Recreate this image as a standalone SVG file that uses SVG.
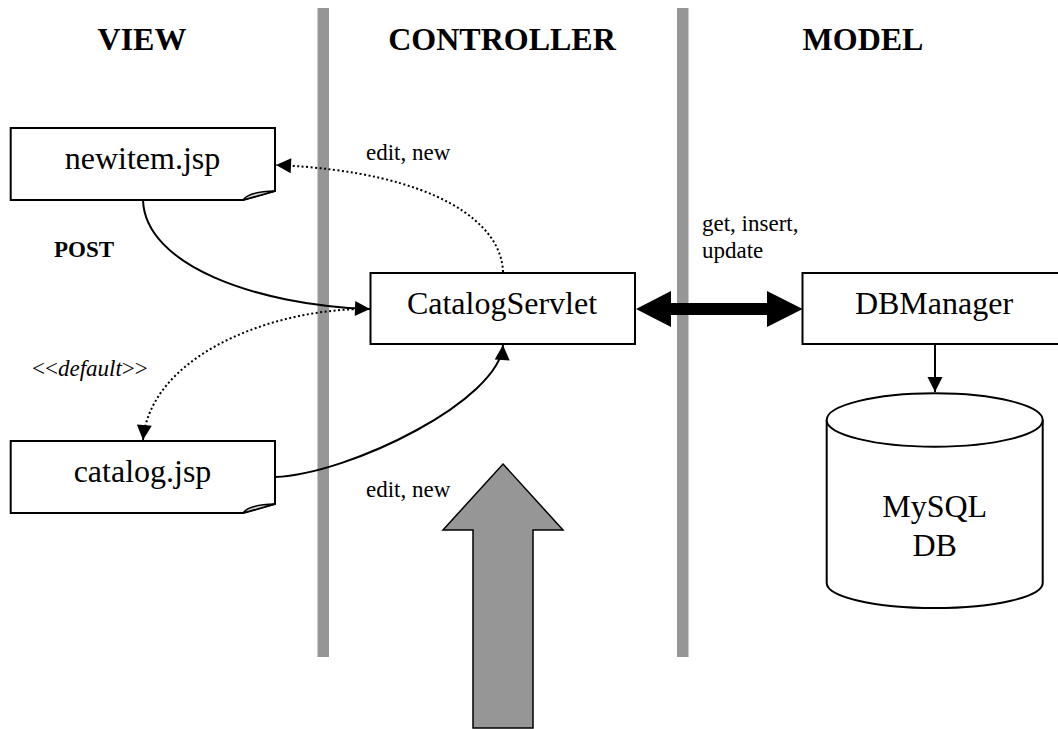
<svg xmlns="http://www.w3.org/2000/svg" width="1058" height="729" viewBox="0 0 1058 729">
  <style>
    .lane { fill: #969696; }
    .head { font-family: "Liberation Serif", "Times New Roman", serif; font-size: 32px; font-weight: bold; text-anchor: middle; fill: #000; }
    .label { font-family: "Liberation Serif", "Times New Roman", serif; font-size: 32px; text-anchor: middle; fill: #000; }
    .small { font-family: "Liberation Serif", "Times New Roman", serif; font-size: 23px; fill: #000; }
    .box { fill: #fff; stroke: #000; stroke-width: 2; }
    .curl { fill: #d4d4d4; stroke: #000; stroke-width: 1.5; stroke-linejoin: round; }
    .solid { fill: none; stroke: #000; stroke-width: 2; }
    .dotted { fill: none; stroke: #000; stroke-width: 2; stroke-dasharray: 2 2.5; }
  </style>
  <defs>
    <marker id="tri" markerUnits="userSpaceOnUse" markerWidth="16" markerHeight="16" refX="15" refY="7.5" orient="auto" overflow="visible">
      <path d="M0,0 L15,7.5 L0,15 Z" fill="#000"/>
    </marker>
  </defs>

  <rect width="1058" height="729" fill="#fff"/>

  <!-- swimlane separators -->
  <g id="lanes">
    <rect class="lane" x="317.5" y="8" width="11.5" height="649"/>
    <rect class="lane" x="677" y="8" width="11.5" height="649"/>
  </g>

  <!-- column titles -->
  <g id="titles">
    <text class="head" x="142" y="50">VIEW</text>
    <text class="head" x="502" y="50">CONTROLLER</text>
    <text class="head" x="863" y="50">MODEL</text>
  </g>

  <!-- request arrow entering the controller -->
  <g id="request">
    <path d="M503,464 L563,530 L533,530 L533,728 L473,728 L473,530 L443,530 Z" fill="#969696" stroke="#000" stroke-width="1.5" stroke-linejoin="miter"/>
  </g>

  <g id="newitem">
    <path class="box" d="M10.7,128 H275 V191 L243,200 H10.7 Z"/>
    <path class="curl" d="M243,200 Q249,191.5 275,191 Z"/>
    <text class="label" x="142.5" y="169">newitem.jsp</text>
  </g>

  <g id="catalog">
    <path class="box" d="M10.7,441 H275 V504 L243,513 H10.7 Z"/>
    <path class="curl" d="M243,513 Q249,504.5 275,504 Z"/>
    <text class="label" x="142.5" y="482">catalog.jsp</text>
  </g>

  <g id="servlet">
    <rect class="box" x="370.5" y="273" width="264.5" height="71"/>
    <text class="label" x="502" y="314">CatalogServlet</text>
  </g>

  <g id="dbmanager">
    <rect class="box" x="802.5" y="273" width="270" height="71"/>
    <text class="label" x="934" y="314">DBManager</text>
  </g>

  <g id="database">
    <path class="box" d="M826.7,420 V583 A108,25 0 0 0 1042.7,583 V420"/>
    <ellipse class="box" cx="934.7" cy="420" rx="108" ry="26.7"/>
    <text class="label" x="934.7" y="517">MySQL</text>
    <text class="label" x="934.7" y="556">DB</text>
  </g>

  <!-- connectors -->
  <g id="connectors">
    <path class="dotted" d="M503,272 C502,225 440,172 276,165" marker-end="url(#tri)"/>
    <path class="solid" d="M143,200 C145,265 255,305 370,309" marker-end="url(#tri)"/>
    <path class="dotted" d="M358,309 C260,312 150,360 143,440" marker-end="url(#tri)"/>
    <path class="solid" d="M275,477 C350,474 500,400 503,345" marker-end="url(#tri)"/>
    <path d="M636,309 L671,291 L671,303 L767,303 L767,291 L802.7,309 L767,327 L767,315 L671,315 L671,327 Z" fill="#000"/>
    <path class="solid" d="M935,344 V392" marker-end="url(#tri)"/>
  </g>

  <!-- connector labels -->
  <g id="labels">
    <text class="small" x="366" y="160">edit, new</text>
    <text class="small" x="54" y="257" font-weight="bold">POST</text>
    <text class="small" x="32" y="376">&lt;&lt;<tspan font-style="italic">default</tspan>&gt;&gt;</text>
    <text class="small" x="366" y="497">edit, new</text>
    <text class="small" x="702" y="231">get, insert,</text>
    <text class="small" x="702" y="258">update</text>
  </g>
</svg>
